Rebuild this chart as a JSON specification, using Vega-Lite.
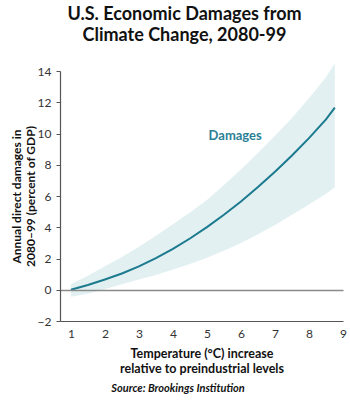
{
  "$schema": "https://vega.github.io/schema/vega-lite/v6.json",
  "autosize": "none",
  "width": 283,
  "height": 250,
  "padding": {"left": 60, "top": 71, "right": 7, "bottom": 81},
  "background": "white",
  "config": {"view": {"stroke": null}, "axis": {"labelOverlap": false, "labelSeparation": 0}},
  "title": {
    "text": ["U.S. Economic Damages from", "Climate Change, 2080-99"],
    "font": "Lato",
    "fontSize": 18,
    "fontWeight": "bold",
    "color": "#111111",
    "anchor": "middle",
    "dx": -17,
    "offset": 18,
    "lineHeight": 21
  },
  "datasets": {
    "damage": [
      {"t": 1.0, "y": 0.0, "lo": -0.45, "hi": 0.35},
      {"t": 1.5, "y": 0.3, "lo": -0.25, "hi": 0.9},
      {"t": 2.0, "y": 0.66, "lo": 0.05, "hi": 1.5},
      {"t": 2.5, "y": 1.04, "lo": 0.35, "hi": 2.1},
      {"t": 3.0, "y": 1.5, "lo": 0.65, "hi": 2.75},
      {"t": 3.5, "y": 2.03, "lo": 0.95, "hi": 3.45},
      {"t": 4.0, "y": 2.62, "lo": 1.3, "hi": 4.2},
      {"t": 4.5, "y": 3.28, "lo": 1.65, "hi": 4.95},
      {"t": 5.0, "y": 4.01, "lo": 2.05, "hi": 5.75},
      {"t": 5.5, "y": 4.8, "lo": 2.5, "hi": 6.7},
      {"t": 6.0, "y": 5.65, "lo": 3.0, "hi": 7.7},
      {"t": 6.5, "y": 6.57, "lo": 3.55, "hi": 8.75},
      {"t": 7.0, "y": 7.55, "lo": 4.15, "hi": 9.85},
      {"t": 7.5, "y": 8.59, "lo": 4.8, "hi": 11.0},
      {"t": 8.0, "y": 9.7, "lo": 5.45, "hi": 12.25},
      {"t": 8.5, "y": 10.9, "lo": 6.15, "hi": 13.6},
      {"t": 8.76, "y": 11.65, "lo": 6.56, "hi": 14.5}
    ],
    "labels": [
      {"t": 5.83, "y": 9.85, "text": "Damages"}
    ],
    "source": [
      {"t": 4.15, "y": -2, "text": "Source: Brookings Institution"}
    ]
  },
  "encoding": {
    "x": {
      "field": "t", "type": "quantitative",
      "scale": {"domain": [0.68, 9], "nice": false, "zero": false},
      "axis": {
        "values": [1, 2, 3, 4, 5, 6, 7, 8, 9],
        "grid": false,
        "ticks": false,
        "domainColor": "#555555",
        "domainWidth": 1.2,
        "labelFont": "Lato",
        "labelFontSize": 12,
        "labelColor": "#333333",
        "labelPadding": 7,
        "labelFlush": false,
        "labelOverlap": false,
        "title": ["Temperature (°C) increase", "relative to preindustrial levels"],
        "titleFont": "Lato",
        "titleFontSize": 12.5,
        "titleFontWeight": "bold",
        "titleColor": "#111111",
        "titleLineHeight": 15,
        "titlePadding": 8
      }
    },
    "y": {
      "field": "y", "type": "quantitative",
      "scale": {"domain": [-2, 14], "nice": false, "zero": false},
      "axis": {
        "values": [-2, 0, 2, 4, 6, 8, 10, 12, 14],
        "grid": true,
        "gridColor": "#8a8a8a",
        "gridWidth": 1.5,
        "gridOpacity": {"condition": {"test": "datum.value === 0", "value": 1}, "value": 0},
        "zindex": 1,
        "tickSize": 4,
        "tickColor": "#555555",
        "domainColor": "#555555",
        "domainWidth": 1.2,
        "labelFont": "Lato",
        "labelFontSize": 12,
        "labelColor": "#333333",
        "labelPadding": 5,
        "labelFlush": false,
        "labelOverlap": false,
        "title": ["Annual direct damages in", "2080–99 (percent of GDP)"],
        "titleFont": "Lato",
        "titleFontSize": 12,
        "titleFontWeight": "bold",
        "titleColor": "#111111",
        "titleLineHeight": 14,
        "titlePadding": 0
      }
    }
  },
  "layer": [
    {
      "data": {"name": "damage"},
      "mark": {"type": "area", "color": "#e2f0f2", "opacity": 1},
      "encoding": {
        "y": {
          "field": "lo", "type": "quantitative",
          "scale": {"domain": [-2, 14], "nice": false, "zero": false},
          "axis": {
            "values": [-2, 0, 2, 4, 6, 8, 10, 12, 14],
            "grid": true,
            "gridColor": "#8a8a8a",
            "gridWidth": 1.5,
            "gridOpacity": {"condition": {"test": "datum.value === 0", "value": 1}, "value": 0},
            "zindex": 1,
            "tickSize": 4,
            "tickColor": "#555555",
            "domainColor": "#555555",
            "domainWidth": 1.2,
            "labelFont": "Lato",
            "labelFontSize": 12,
            "labelColor": "#333333",
            "labelPadding": 5,
            "labelFlush": false,
            "labelOverlap": false,
            "title": ["Annual direct damages in", "2080–99 (percent of GDP)"],
            "titleFont": "Lato",
            "titleFontSize": 12,
            "titleFontWeight": "bold",
            "titleColor": "#111111",
            "titleLineHeight": 14,
            "titlePadding": 0
          }
        },
        "y2": {"field": "hi"}
      }
    },
    {
      "data": {"name": "damage"},
      "mark": {"type": "line", "color": "#1c7a8e", "strokeWidth": 2}
    },
    {
      "data": {"name": "labels"},
      "mark": {"type": "text", "font": "Lato", "fontSize": 13, "fontWeight": "bold", "color": "#2b7f95"},
      "encoding": {
        "text": {"field": "text"}
      }
    },
    {
      "data": {"name": "source"},
      "mark": {"type": "text", "font": "Lato", "fontSize": 11, "fontWeight": "bold", "fontStyle": "italic", "color": "#111111", "dy": 68},
      "encoding": {
        "text": {"field": "text"}
      }
    }
  ]
}
